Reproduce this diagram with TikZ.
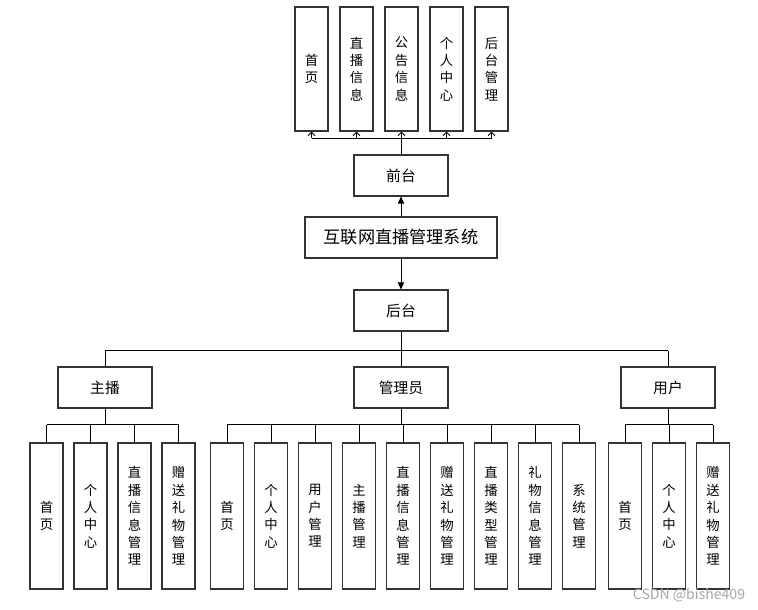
\documentclass[tikz,border=0pt]{standalone}
\usepackage{fontspec}
\setmainfont{Noto Sans CJK SC}
\usetikzlibrary{positioning,arrows.meta,shadows}

\begin{document}
\begin{tikzpicture}[%
    x=0.025cm,
    y=-0.025cm,
    line width=0.6pt,
    font=\fontsize{10.5}{12}\selectfont,
    box/.style={%
      rectangle,
      minimum width=2.35cm,
      minimum height=1.025cm,
      draw=black!80,
      line width=0.8pt,
      fill=white,
      drop shadow={shadow xshift=0.7pt,shadow yshift=-0.7pt,opacity=0.2}
    },
    leaf/.style={%
      box,
      minimum width=0.825cm,
      minimum height=3.65cm,
      inner sep=0pt,
      align=center,
      font=\fontsize{9.5}{12.4}\selectfont
    },
    topleaf/.style={leaf, minimum height=3.1cm},
    up/.style={-{Straight Barb[length=2.5pt,width=5pt]}},
    main/.style={-{Triangle[length=5pt,width=4.5pt]}}
  ]
    \useasboundingbox (0,0) rectangle (758,610);

    % middle column
    \node[box, minimum width=4.8cm, font=\fontsize{12.2}{14}\selectfont] (sys) at (401,237.5) {互联网直播管理系统};
    \node[box] (front) at (401,175.5) {前台};
    \node[box] (back) at (401,310.5) {后台};
    \draw[main] (sys) -- (front);
    \draw[main] (sys) -- (back);

    % front pages
    \foreach \t [count=\i] in {{首\\页},{直\\播\\信\\息},{公\\告\\信\\息},{个\\人\\中\\心},{后\\台\\管\\理}}
      \node[topleaf] (t\i) at ({266.5+45*\i},69) {\t};
    \draw (front.north) -- ++(0,-16) coordinate (fbus);
    \draw (t1 |- fbus) -- (t5 |- fbus);
    \foreach \i in {1,...,5}
      \draw[up] (fbus -| t\i) -- (t\i.south);

    % roles
    \node[box] (anchor) at (105,387.5) {主播};
    \node[box] (admin) at (401,387.5) {管理员};
    \node[box] (user) at (668,387.5) {用户};
    \draw (back.south) -- ++(0,19) coordinate (rbus);
    \draw (anchor |- rbus) -- (user |- rbus);
    \draw (rbus -| anchor) -- (anchor.north);
    \draw (rbus -| admin) -- (admin.north);
    \draw (rbus -| user) -- (user.north);

    % anchor pages
    \foreach \t [count=\i] in {{首\\页},{个\\人\\中\\心},{直\\播\\信\\息\\管\\理},{赠\\送\\礼\\物\\管\\理}}
      \node[leaf] (a\i) at ({2.5+44*\i},516) {\t};
    \draw (anchor.south) -- ++(0,16) coordinate (abus);
    \draw (a1 |- abus) -- (a4 |- abus);
    \foreach \i in {1,...,4}
      \draw (abus -| a\i) -- (a\i.north);

    % admin pages
    \foreach \t [count=\i] in {{首\\页},{个\\人\\中\\心},{用\\户\\管\\理},{主\\播\\管\\理},{直\\播\\信\\息\\管\\理},{赠\\送\\礼\\物\\管\\理},{直\\播\\类\\型\\管\\理},{礼\\物\\信\\息\\管\\理},{系\\统\\管\\理}}
      \node[leaf] (m\i) at ({183+44*\i},516) {\t};
    \draw (admin.south) -- ++(0,16) coordinate (mbus);
    \draw (m1 |- mbus) -- (m9 |- mbus);
    \foreach \i in {1,...,9}
      \draw (mbus -| m\i) -- (m\i.north);

    % user pages
    \foreach \t [count=\i] in {{首\\页},{个\\人\\中\\心},{赠\\送\\礼\\物\\管\\理}}
      \node[leaf] (u\i) at ({581+44*\i},516) {\t};
    \draw (user.south) -- ++(0,16) coordinate (ubus);
    \draw (u1 |- ubus) -- (u3 |- ubus);
    \foreach \i in {1,...,3}
      \draw (ubus -| u\i) -- (u\i.north);

    \node[text=black!35, font=\fontsize{10}{11}\selectfont] (mark) at (689,595) {CSDN @bishe409};
\end{tikzpicture}
\end{document}
